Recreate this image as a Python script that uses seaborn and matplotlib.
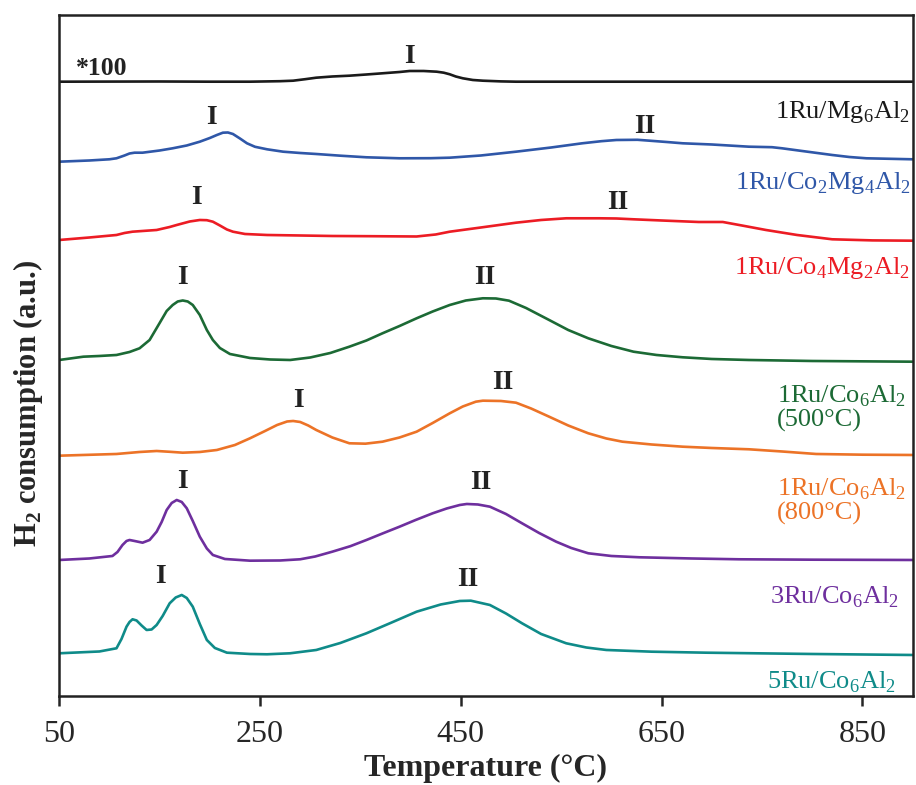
import numpy as np
import pandas as pd
import matplotlib
matplotlib.use("Agg")
import matplotlib.pyplot as plt
import seaborn as sns

# H2-TPR profiles, stacked (a.u.)
samples = ["1Ru/Mg6Al2", "1Ru/Co2Mg4Al2", "1Ru/Co4Mg2Al2",
           "1Ru/Co6Al2 (500C)", "1Ru/Co6Al2 (800C)", "3Ru/Co6Al2", "5Ru/Co6Al2"]
colors = ["#1a1a1a", "#2f57a8", "#ec1c24", "#1c6a35", "#ec7327", "#6e2f9e", "#0f8b89"]

t_mg6 = [50, 150, 200, 240, 270, 283, 295, 306, 322, 339, 356, 372, 389, 399, 413, 426,
         433, 439, 445, 452, 462, 472, 490, 505, 600, 750, 900]
h_mg6 = [614.3, 614.5, 614.3, 614.3, 614.8, 615.3, 616.8, 618.3, 619.5, 620.3, 621.5, 622.7,
         624, 625, 625, 624.3, 623.3, 621.7, 619.5, 617.7, 616, 615.3, 614.6, 614.3, 614.3,
         614.3, 614.3]

t_co2 = [50, 80, 100, 107, 115, 120, 125, 133, 150, 163, 177, 190, 200, 207, 213, 218, 223,
         230, 237, 245, 257, 273, 290, 306, 330, 356, 389, 420, 439, 470, 505, 540, 571, 590,
         605, 626, 638, 655, 671, 700, 737, 760, 770, 790, 820, 837, 854, 900]
h_co2 = [534.3, 535.5, 536.7, 537.7, 540.5, 542.5, 543.3, 543.3, 545.5, 547.7, 550.5, 554.3,
         558, 561, 563.3, 563.5, 562, 557.5, 552.7, 549.2, 546.7, 544.3, 543, 542, 540.3,
         538.7, 537.7, 537.8, 538.3, 540.5, 544.3, 548.5, 552.7, 554.8, 556, 556.2, 555.3,
         554, 552.7, 551.5, 549.3, 548.8, 547.7, 545, 541, 539, 537.7, 536.7]

t_co4 = [50, 80, 107, 115, 123, 147, 160, 167, 180, 190, 197, 203, 210, 217, 223, 235, 257,
         290, 322, 360, 406, 425, 439, 470, 505, 530, 555, 588, 605, 622, 650, 687, 711, 730,
         754, 785, 820, 860, 900]
h_co4 = [456, 458.5, 461, 463, 464.3, 466, 469, 471, 474.5, 476, 475.8, 474.3, 470.5, 466.5,
         464.3, 462, 461, 460.5, 460, 459.8, 459.5, 461.5, 464.3, 468.5, 473.3, 476, 477.7,
         477.7, 477.5, 476.7, 475.5, 474, 474, 470.5, 466, 461, 456.7, 455.6, 455.3]

t_co6_500 = [50, 74, 90, 107, 120, 130, 140, 150, 157, 163, 168, 173, 178, 183, 190, 197,
             203, 210, 220, 240, 260, 280, 300, 320, 339, 356, 372, 389, 406, 422, 439, 455,
             472, 485, 498, 515, 538, 557, 577, 600, 622, 645, 671, 700, 737, 800, 900]
h_co6_500 = [336, 339.3, 340, 341, 344, 347.7, 356, 373, 385, 391, 394.5, 395.5, 394.5, 391,
             381, 366, 356, 348, 342, 338, 336.5, 336, 338.5, 343, 349.3, 355.5, 362.7, 370,
             377.7, 384.5, 391, 395.5, 397.7, 397.5, 395.3, 388, 376, 366, 357.7, 350, 344.3,
             341, 338.7, 337, 336, 335, 334.3]

t_co6_800 = [50, 107, 130, 147, 160, 173, 190, 207, 225, 240, 255, 267, 277, 283, 290, 298,
             306, 322, 339, 355, 372, 389, 406, 422, 439, 452, 465, 472, 490, 505, 520, 538,
             557, 577, 595, 611, 640, 671, 700, 737, 770, 804, 850, 900]
h_co6_800 = [240.3, 242, 244, 245, 244.2, 243.3, 244, 246, 251, 257.7, 265, 271, 274.5, 275,
             274, 270.5, 266, 258.5, 252.7, 252.3, 254.3, 258.5, 264.3, 273, 282.7, 289.5,
             294.3, 295.3, 295, 293.3, 287.5, 279.3, 270.5, 262.7, 257.5, 254.3, 251.5, 249.3,
             248, 246.7, 244.5, 242, 241.3, 241]

t_3ru = [50, 80, 103, 108, 113, 117, 120, 125, 133, 140, 147, 152, 157, 162, 167, 172, 177,
         183, 190, 197, 203, 215, 240, 270, 290, 305, 322, 340, 356, 372, 389, 405, 422, 436,
         449, 456, 467, 479, 495, 511, 528, 545, 560, 577, 600, 628, 680, 727, 800, 900]
h_3ru = [136, 137.5, 140, 144, 151, 155, 156, 155, 153.3, 156, 164.3, 174, 186, 193, 196, 194,
         187.7, 175, 159.3, 147.5, 141, 137, 135.3, 135.5, 136.7, 139.5, 144.3, 149.8, 156,
         162.5, 169.3, 176, 182.7, 187.5, 191, 192, 191.5, 189.3, 182, 172.7, 163, 154.3, 148,
         142.7, 140, 138.7, 137.5, 136.7, 136.3, 136]

t_5ru = [50, 90, 107, 112, 117, 120, 123, 127, 132, 137, 142, 147, 153, 160, 166, 172, 177,
         183, 190, 197, 205, 217, 240, 257, 280, 306, 330, 356, 380, 406, 430, 449, 460, 479,
         495, 511, 530, 555, 575, 595, 640, 694, 800, 900]
h_5ru = [42.7, 44.5, 47.7, 57, 69.3, 74, 76.7, 75.5, 70.5, 66, 66.5, 71, 80, 92.7, 98.5, 101,
         98, 89.3, 72, 56, 48, 43.3, 42, 41.7, 42.7, 46, 53, 62.7, 73, 84.3, 91.5, 95, 95.3, 91,
         82.5, 72.7, 62, 52.7, 48.5, 46, 44.3, 43.3, 42, 41]

temps = [t_mg6, t_co2, t_co4, t_co6_500, t_co6_800, t_3ru, t_5ru]
signals = [h_mg6, h_co2, h_co4, h_co6_500, h_co6_800, h_3ru, h_5ru]

df = pd.concat([pd.DataFrame({"T": t, "H2": h, "sample": s})
                for t, h, s in zip(temps, signals, samples)], ignore_index=True)

sns.set_theme(style="ticks")
plt.rcParams["font.family"] = ["Liberation Serif", "DejaVu Serif"]
plt.rcParams["mathtext.fontset"] = "custom"
plt.rcParams["mathtext.rm"] = "Liberation Serif"
plt.rcParams["mathtext.bf"] = "Liberation Serif:bold"

fig = plt.figure(figsize=(9.16, 7.85), dpi=100)
ax = fig.add_axes([0.0647, 0.1134, 0.9315, 0.8675])

sns.lineplot(data=df, x="T", y="H2", hue="sample", palette=dict(zip(samples, colors)),
             estimator=None, sort=False, linewidth=1.9, legend=False, ax=ax)

ax.set_xlim(50, 900)
ax.set_ylim(0, 681)
ax.set_xticks([50, 250, 450, 650, 850])
ax.set_yticks([])
ax.tick_params(axis="x", direction="out", length=7, width=1.8, labelsize=23, pad=10)
for sp in ax.spines.values():
    sp.set_linewidth(1.8)
    sp.set_color("#222222")

ax.set_xlabel("Temperature (°C)", fontsize=23, fontweight="bold", labelpad=4)
ax.set_ylabel(r"H$_\mathbf{2}$ consumption (a.u.)", fontsize=22, fontweight="bold")
ax.yaxis.set_label_coords(-0.017, 0.43)

# peak labels
peaks = [("I", 399, 639), ("I", 202, 578), ("II", 633, 569), ("I", 187, 498), ("II", 606, 493),
         ("I", 173, 418), ("II", 474, 418), ("I", 288, 295), ("II", 492, 313),
         ("I", 173, 214), ("II", 470, 213), ("I", 151, 119), ("II", 457, 116)]
for txt, x, y in peaks:
    ax.text(x, y, txt, fontsize=20, fontweight="bold", ha="center", va="center", color="#222222")
ax.text(67, 627, "*100", fontsize=18.5, fontweight="bold", ha="left", va="center", color="#222222")

# sample names
sub = lambda n: r"$_\mathregular{%s}$" % n
ax.text(897, 584, "1Ru/Mg" + sub(6) + "Al" + sub(2), fontsize=19, ha="right", va="center", color=colors[0])
ax.text(898, 513, "1Ru/Co" + sub(2) + "Mg" + sub(4) + "Al" + sub(2), fontsize=19, ha="right", va="center", color=colors[1])
ax.text(897, 428, "1Ru/Co" + sub(4) + "Mg" + sub(2) + "Al" + sub(2), fontsize=19, ha="right", va="center", color=colors[2])
ax.text(765, 288, "1Ru/Co" + sub(6) + "Al" + sub(2) + "\n(500°C)", fontsize=19, ha="left", va="center",
        linespacing=1.0, color=colors[3])
ax.text(765, 195, "1Ru/Co" + sub(6) + "Al" + sub(2) + "\n(800°C)", fontsize=19, ha="left", va="center",
        linespacing=1.0, color=colors[4])
ax.text(887, 99, "3Ru/Co" + sub(6) + "Al" + sub(2), fontsize=19, ha="right", va="center", color=colors[5])
ax.text(884, 14, "5Ru/Co" + sub(6) + "Al" + sub(2), fontsize=19, ha="right", va="center", color=colors[6])

fig.savefig("out.png", dpi=100)
